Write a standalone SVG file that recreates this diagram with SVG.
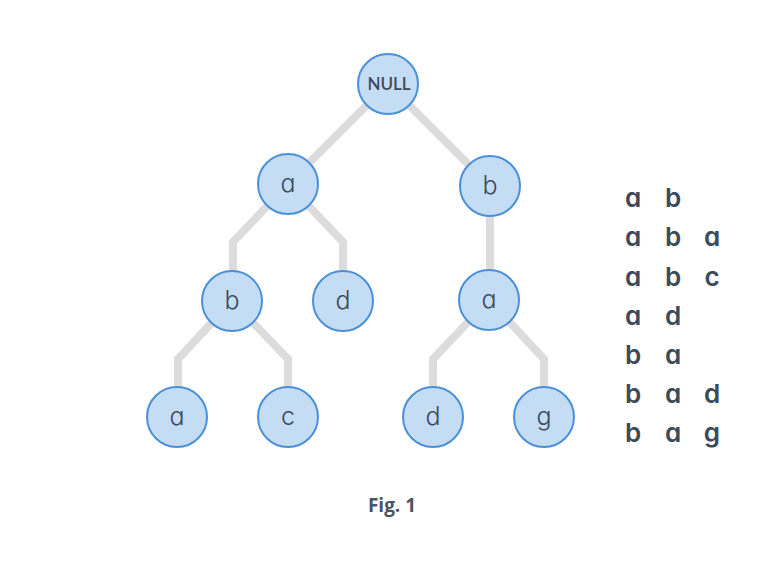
<svg xmlns="http://www.w3.org/2000/svg" width="780" height="570" viewBox="0 0 780 570">
<style>
.edge{fill:none;stroke:#dcdcdc;stroke-width:8;stroke-linejoin:miter}
.node circle{fill:#c4ddf5;stroke:#4a90d9;stroke-width:2}
.lbl{font-family:Inter,"Liberation Sans",sans-serif;font-feature-settings:"cv11" 1;font-size:25px;font-weight:300;fill:#3d4a5a;text-anchor:middle}
.null{font-family:Lato,"Open Sans",sans-serif;font-size:17px;font-weight:600;fill:#3d4a5a;text-anchor:middle}
.lst{font-family:Inter,"Liberation Sans",sans-serif;font-feature-settings:"cv11" 1;font-size:26px;font-weight:600;fill:#3d4a5a;text-anchor:middle}
.cap{font-family:"Open Sans","Liberation Sans",sans-serif;font-size:19px;font-weight:700;fill:#4a5562;text-anchor:middle}
</style>
<rect width="780" height="570" fill="#ffffff"/>
<g id="connectors">
<path class="edge" d="M388,84 L288,184"/>
<path class="edge" d="M388,84 L490,186"/>
<path class="edge" d="M288,184 L233,242 L233,300"/>
<path class="edge" d="M288,184 L343,242 L343,300"/>
<path class="edge" d="M490,186 L490,300"/>
<path class="edge" d="M232,301 L178,359 L178,417"/>
<path class="edge" d="M232,301 L288,359 L288,417"/>
<path class="edge" d="M489,300 L433,359 L433,417"/>
<path class="edge" d="M489,300 L544,359 L544,417"/>
</g>
<g id="n-null" class="node"><circle cx="388" cy="84" r="30"/><text class="null" x="389" y="90">NULL</text></g>
<g id="n-a" class="node"><circle cx="288" cy="184" r="30"/><text class="lbl" x="288" y="192">a</text></g>
<g id="n-b" class="node"><circle cx="490" cy="186" r="30"/><text class="lbl" x="490" y="194">b</text></g>
<g id="n-ab" class="node"><circle cx="232" cy="301" r="30"/><text class="lbl" x="232" y="309">b</text></g>
<g id="n-ad" class="node"><circle cx="343" cy="301" r="30"/><text class="lbl" x="343" y="309">d</text></g>
<g id="n-ba" class="node"><circle cx="489" cy="300" r="30"/><text class="lbl" x="489" y="308">a</text></g>
<g id="n-aba" class="node"><circle cx="177" cy="417" r="30"/><text class="lbl" x="177" y="425">a</text></g>
<g id="n-abc" class="node"><circle cx="288" cy="417" r="30"/><text class="lbl" x="288" y="425">c</text></g>
<g id="n-bad" class="node"><circle cx="433" cy="417" r="30"/><text class="lbl" x="433" y="425">d</text></g>
<g id="n-bag" class="node"><circle cx="544" cy="417" r="30"/><text class="lbl" x="544" y="425">g</text></g>
<g id="list">
<text class="lst" y="207"><tspan x="633">a</tspan><tspan x="673">b</tspan></text>
<text class="lst" y="246"><tspan x="633">a</tspan><tspan x="673">b</tspan><tspan x="712">a</tspan></text>
<text class="lst" y="286"><tspan x="633">a</tspan><tspan x="673">b</tspan><tspan x="712">c</tspan></text>
<text class="lst" y="325"><tspan x="633">a</tspan><tspan x="673">d</tspan></text>
<text class="lst" y="364"><tspan x="633">b</tspan><tspan x="673">a</tspan></text>
<text class="lst" y="403"><tspan x="633">b</tspan><tspan x="673">a</tspan><tspan x="712">d</tspan></text>
<text class="lst" y="442"><tspan x="633">b</tspan><tspan x="673">a</tspan><tspan x="712">g</tspan></text>
</g>
<text class="cap" x="392" y="512">Fig. 1</text>
</svg>
